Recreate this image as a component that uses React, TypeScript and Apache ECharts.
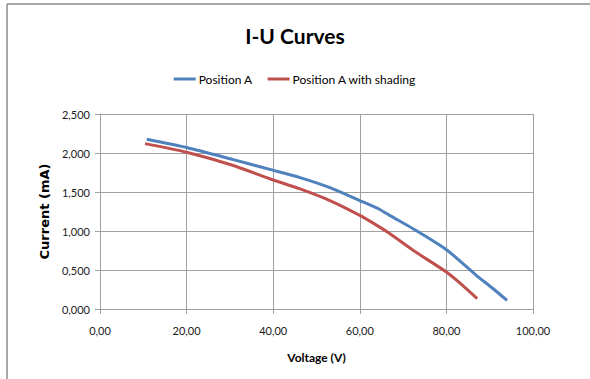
import React, { useEffect, useRef } from "react";
import * as echarts from "echarts";

// Measured I-U curves (voltage in V, current as plotted on the axis)
const voltageA = [10.8, 20, 30.8, 39.2, 46.2, 53.1, 60, 64.6, 66.9, 72.3, 80, 86.9, 90.8, 94.0];
const currentA = [2.176, 2.07, 1.915, 1.79, 1.685, 1.556, 1.39, 1.276, 1.2, 1.03, 0.76, 0.432, 0.26, 0.11];

const voltageShaded = [10.4, 20, 30.8, 39.2, 46.2, 53.1, 60, 64.6, 66.9, 72.3, 80, 83.8, 87.1];
const currentShaded = [2.12, 2.01, 1.84, 1.67, 1.54, 1.39, 1.2, 1.05, 0.967, 0.753, 0.474, 0.3, 0.133];

const seriesNames = ["Position A", "Position A with shading"];
const seriesColors = ["#4F81BD", "#C0504D"];

const comma = (v: number, digits: number) => v.toFixed(digits).replace(".", ",");

const pairs = (xs: number[], ys: number[]) => xs.map((x, i) => [x, ys[i]]);

export default function App() {
  const ref = useRef<HTMLDivElement>(null);

  useEffect(() => {
    if (!ref.current) return;
    const chart = echarts.init(ref.current, null, { renderer: "svg" });
    const font = "Lato, 'Open Sans', sans-serif";
    const grid = "#a0a0a0";

    chart.setOption({
      animation: false,
      backgroundColor: "#ffffff",
      title: {
        text: "I-U Curves",
        left: "center",
        top: 20,
        textStyle: { fontFamily: font, fontSize: 21, fontWeight: "bold", color: "#000" },
      },
      legend: {
        top: 68,
        left: "center",
        icon: "rect",
        itemWidth: 22,
        itemHeight: 3,
        itemGap: 15,
        textStyle: { fontFamily: font, fontSize: 12, color: "#000", padding: [0, 0, 0, -2] },
        data: seriesNames,
      },
      grid: { left: 100, right: 57, top: 114, bottom: 70 },
      xAxis: {
        type: "value",
        min: 0,
        max: 100,
        interval: 20,
        name: "Voltage (V)",
        nameLocation: "middle",
        nameGap: 42,
        nameTextStyle: { fontFamily: font, fontSize: 12, fontWeight: "bold", color: "#000" },
        axisLine: { show: true, lineStyle: { color: grid } },
        axisTick: { show: true, length: 5, lineStyle: { color: grid } },
        axisLabel: { margin: 16, fontFamily: font, fontSize: 11, color: "#1a1a1a", formatter: (v: number) => comma(v, 2) },
        splitLine: { show: true, lineStyle: { color: grid, width: 1 } },
      },
      yAxis: {
        type: "value",
        min: 0,
        max: 2.5,
        interval: 0.5,
        name: "Current (mA)",
        nameLocation: "middle",
        nameRotate: 90,
        nameGap: 43,
        nameTextStyle: { fontFamily: "'DejaVu Sans', sans-serif", fontSize: 13, fontWeight: "bold", color: "#000" },
        axisLine: { show: true, lineStyle: { color: grid } },
        axisTick: { show: true, length: 5, lineStyle: { color: grid } },
        axisLabel: { margin: 10, fontFamily: font, fontSize: 11, color: "#1a1a1a", formatter: (v: number) => comma(v, 3) },
        splitLine: { show: true, lineStyle: { color: grid, width: 1 } },
      },
      series: [
        {
          name: seriesNames[0],
          type: "line",
          data: pairs(voltageA, currentA),
          symbol: "none",
          smooth: 0.25,
          color: seriesColors[0],
          lineStyle: { width: 3, color: seriesColors[0] },
        },
        {
          name: seriesNames[1],
          type: "line",
          data: pairs(voltageShaded, currentShaded),
          symbol: "none",
          smooth: 0.25,
          color: seriesColors[1],
          lineStyle: { width: 3, color: seriesColors[1] },
        },
      ],
      graphic: [
        { type: "line", shape: { x1: 7, y1: 4, x2: 590, y2: 4 }, style: { stroke: "#8c8c8c", lineWidth: 1.5 }, silent: true },
        { type: "line", shape: { x1: 7, y1: 4, x2: 7, y2: 379 }, style: { stroke: "#8c8c8c", lineWidth: 1.5 }, silent: true },
      ],
    });

    return () => chart.dispose();
  }, []);

  return (
    <div
      ref={ref}
      style={{ position: "fixed", left: 0, top: 0, width: 590, height: 379, background: "#fff" }}
    />
  );
}
